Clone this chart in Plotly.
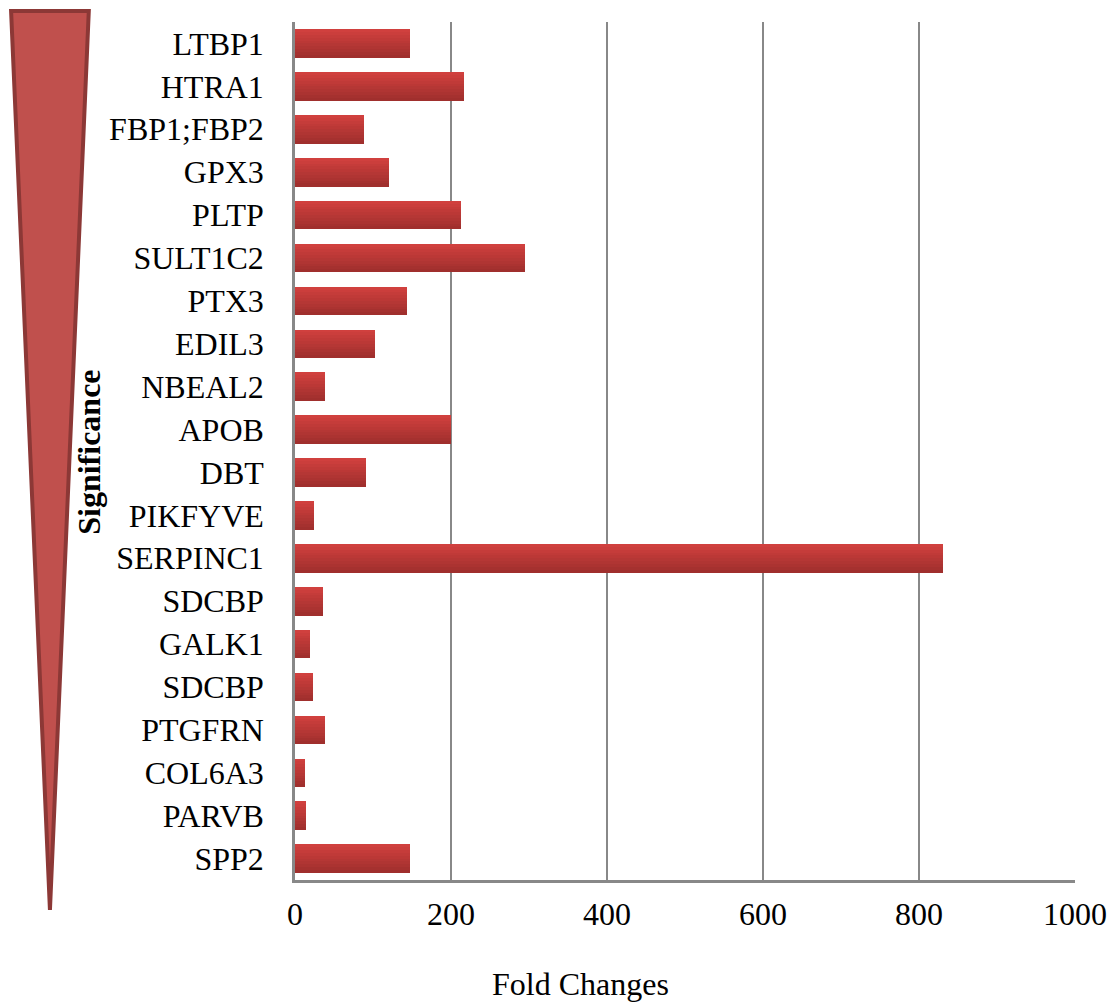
import plotly.graph_objects as go

genes = ["LTBP1", "HTRA1", "FBP1;FBP2", "GPX3", "PLTP", "SULT1C2", "PTX3", "EDIL3",
         "NBEAL2", "APOB", "DBT", "PIKFYVE", "SERPINC1", "SDCBP", "GALK1", "SDCBP",
         "PTGFRN", "COL6A3", "PARVB", "SPP2"]
fold_changes = [147, 217, 88, 121, 213, 295, 143, 102, 38, 200, 91, 24, 831, 36, 19, 23,
                38, 13, 14, 147]
x_ticks = [0, 200, 400, 600, 800, 1000]

W, H = 1119, 1002
L, R, T, B = 295, 1078, 22, 880

positions = list(range(len(genes)))

fig = go.Figure()

# bar gradient imitation: stacked stripes from light (top) to dark (bottom)
top_c = (208, 64, 62)
bot_c = (160, 47, 45)
n = 10
bw = 0.66
for k in range(n):
    t = k / (n - 1)
    c = tuple(int(round(top_c[i] + (bot_c[i] - top_c[i]) * t)) for i in range(3))
    fig.add_trace(go.Bar(
        x=fold_changes, y=positions, orientation="h",
        width=bw / n + 0.005, offset=-bw / 2 + k * bw / n,
        marker=dict(color="rgb(%d,%d,%d)" % c, line=dict(width=0)),
        hoverinfo="skip", showlegend=False,
    ))

serif = "Liberation Serif, Times New Roman, serif"
fs = 32

fig.update_layout(
    width=W, height=H,
    margin=dict(l=L, r=W - R, t=T, b=H - B),
    paper_bgcolor="white", plot_bgcolor="white",
    barmode="overlay", bargap=0,
    font=dict(family=serif, size=fs, color="black"),
    xaxis=dict(range=[0, 1000], tickvals=x_ticks, ticktext=[str(v) for v in x_ticks],
               showgrid=True, gridcolor="#888888", gridwidth=2,
               showline=True, linecolor="#888888", linewidth=2.5,
               zeroline=False, ticks="", ticklabelstandoff=4,
               tickfont=dict(family=serif, size=fs, color="black")),
    yaxis=dict(range=[len(genes) - 0.5, -0.5], tickvals=positions, ticktext=genes,
               showgrid=False, showline=True, linecolor="#888888", linewidth=2.5,
               zeroline=False, ticks="", ticklabelstandoff=22,
               tickfont=dict(family=serif, size=fs, color="black")),
)

def px(xp):
    return (xp - L) / (R - L)

def py(yp):
    return (B - yp) / (B - T)

# significance wedge
path = "M %f,%f L %f,%f L %f,%f Z" % (px(10), py(11), px(88), py(11), px(49), py(910))
fig.add_shape(type="path", path=path, xref="paper", yref="paper",
              fillcolor="#c0504d", line=dict(color="#8c3836", width=4), layer="above")

fig.add_annotation(text="<b>Significance</b>", xref="paper", yref="paper",
                   x=px(88), y=py(452), textangle=-90, showarrow=False,
                   font=dict(family=serif, size=fs, color="black"),
                   xanchor="center", yanchor="middle")

fig.add_annotation(text="Fold Changes", xref="paper", yref="paper",
                   x=px(582), y=py(984), showarrow=False,
                   font=dict(family=serif, size=fs, color="black"),
                   xanchor="center", yanchor="middle")

fig.write_html("out.html")
